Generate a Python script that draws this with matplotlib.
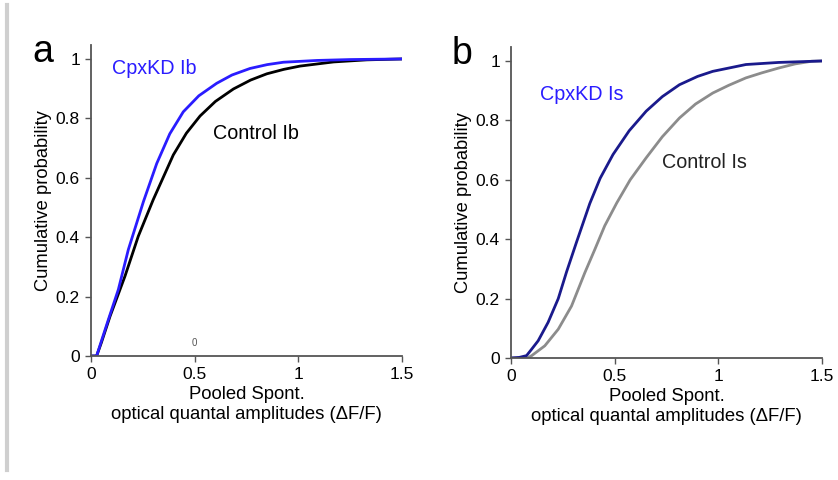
import matplotlib
matplotlib.use("Agg")
import matplotlib.pyplot as plt
from matplotlib.lines import Line2D

plt.rcParams['font.family'] = ['Liberation Sans', 'DejaVu Sans']

# panel a: Ib boutons
cpx_ib_x = [0.0, 0.027, 0.05, 0.084, 0.132, 0.18, 0.253, 0.317, 0.38, 0.445, 0.52, 0.606,
            0.68, 0.767, 0.85, 0.928, 1.09, 1.25, 1.5]
cpx_ib_y = [0.0, 0.0, 0.05, 0.123, 0.224, 0.358, 0.52, 0.648, 0.748, 0.822, 0.876, 0.918,
            0.946, 0.968, 0.981, 0.989, 0.995, 0.998, 1.0]
ctl_ib_x = [0.0, 0.027, 0.05, 0.092, 0.164, 0.228, 0.3, 0.397, 0.46, 0.526, 0.6, 0.687,
            0.77, 0.848, 0.93, 1.008, 1.17, 1.33, 1.5]
ctl_ib_y = [0.0, 0.0, 0.045, 0.134, 0.269, 0.403, 0.526, 0.677, 0.75, 0.808, 0.857, 0.899,
            0.929, 0.95, 0.965, 0.976, 0.99, 0.997, 1.0]

# panel b: Is boutons
cpx_is_x = [0.0, 0.04, 0.075, 0.1, 0.131, 0.179, 0.228, 0.268, 0.316, 0.38, 0.43, 0.492,
            0.57, 0.652, 0.73, 0.8125, 0.9, 0.973, 1.133, 1.29, 1.5]
cpx_is_y = [0.0, 0.002, 0.008, 0.03, 0.058, 0.12, 0.2, 0.29, 0.39, 0.52, 0.605, 0.685,
            0.765, 0.831, 0.88, 0.92, 0.948, 0.965, 0.988, 0.995, 1.0]
ctl_is_x = [0.0, 0.08, 0.1, 0.163, 0.228, 0.292, 0.356, 0.404, 0.452, 0.51, 0.575, 0.652,
            0.73, 0.8125, 0.89, 0.973, 1.05, 1.133, 1.21, 1.29, 1.37, 1.45, 1.5]
ctl_is_y = [0.0, 0.0, 0.008, 0.041, 0.097, 0.175, 0.287, 0.365, 0.445, 0.522, 0.6, 0.674,
            0.745, 0.808, 0.855, 0.892, 0.918, 0.943, 0.96, 0.976, 0.99, 0.999, 1.0]

xticks = [0, 0.5, 1, 1.5]
xticklabels = ['0', '0.5', '1', '1.5']
yticks = [0, 0.2, 0.4, 0.6, 0.8, 1]
yticklabels = ['0', '0.2', '0.4', '0.6', '0.8', '1']

fig = plt.figure(figsize=(8.38, 4.8), dpi=100)

# light grey page edge on the left
fig.add_artist(Line2D([6.5 / 838, 6.5 / 838], [0.02, 0.99], color='#cfcfcf', lw=3,
                      transform=fig.transFigure))

ax_a = fig.add_axes([91 / 838, 1 - 356 / 480, 311 / 838, 311 / 480])
ax_b = fig.add_axes([511 / 838, 1 - 358 / 480, 311 / 838, 311 / 480])


def style(ax):
    ax.set_xlim(0, 1.5)
    ax.set_ylim(0, 1.047)
    for s in ['top', 'right']:
        ax.spines[s].set_visible(False)
    for s in ['left', 'bottom']:
        ax.spines[s].set_color('#555555')
        ax.spines[s].set_linewidth(1.3)
    ax.set_xticks(xticks)
    ax.set_xticklabels(xticklabels)
    ax.set_yticks(yticks)
    ax.set_yticklabels(yticklabels)
    ax.tick_params(direction='out', length=4, width=1, color='#555555',
                   labelsize=12.5, pad=4)
    ax.set_ylabel('Cumulative probability', fontsize=13.2, labelpad=3)
    ax.set_xlabel('Pooled Spont.\noptical quantal amplitudes (ΔF/F)', fontsize=13.3,
                  linespacing=1.2, labelpad=3)


style(ax_a)
ax_a.plot(ctl_ib_x, ctl_ib_y, color='black', lw=2, solid_joinstyle='round')
ax_a.plot(cpx_ib_x, cpx_ib_y, color='#2a1cff', lw=2, solid_joinstyle='round')
ax_a.text(0.1, 0.95, 'CpxKD Ib', color='#2a1cff', fontsize=14.2)
ax_a.text(0.59, 0.73, 'Control Ib', color='black', fontsize=14.2)
ax_a.text(0.5, 0.035, '0', color='#555555', fontsize=7, ha='center')
fig.text(32 / 838, 1 - 62 / 480, 'a', fontsize=27)

style(ax_b)
ax_b.plot(ctl_is_x, ctl_is_y, color='#8c8c8c', lw=2, solid_joinstyle='round')
ax_b.plot(cpx_is_x, cpx_is_y, color='#1a1a8c', lw=2, solid_joinstyle='round')
ax_b.text(0.14, 0.87, 'CpxKD Is', color='#2a1cff', fontsize=14.2)
ax_b.text(0.73, 0.64, 'Control Is', color='#222222', fontsize=14.2)
fig.text(452 / 838, 1 - 64 / 480, 'b', fontsize=27)

fig.savefig('out.png', dpi=100)
